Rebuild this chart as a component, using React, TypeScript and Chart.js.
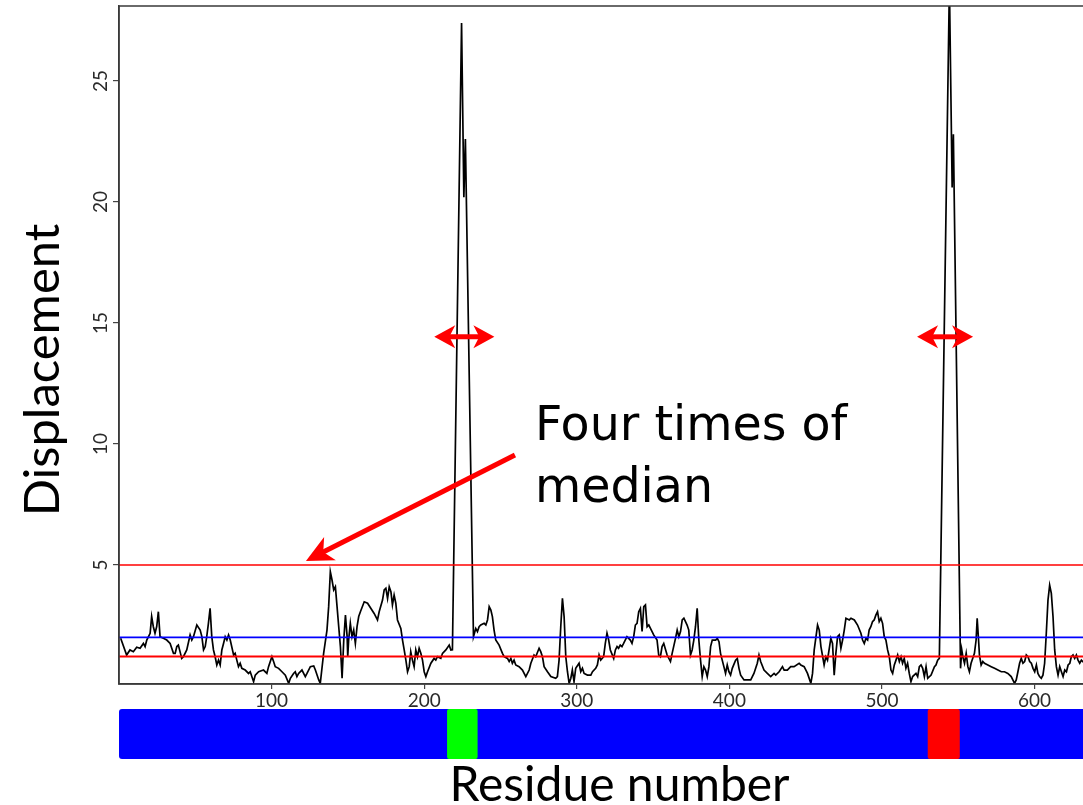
import React, { useEffect, useRef } from "react";
import { Chart, registerables } from "chart.js";

Chart.register(...registerables);

// ---------- data ----------
const residues = [
  1.1, 5.0, 7.2, 9.4, 11.6, 13.8, 16.0, 17.1, 18.2, 20.4, 21.4, 22.5, 23.6, 24.7, 25.8, 26.9, 29.1, 31.3, 33.5, 35.7,
  36.8, 37.9, 38.9, 40.0, 41.1, 42.2, 44.4, 46.6, 47.7, 48.8, 51.0, 53.2, 54.3, 55.4, 56.5, 57.5, 58.6, 59.7, 60.8, 61.9,
  63.0, 64.1, 65.2, 66.3, 67.4, 68.5, 69.6, 70.7, 71.8, 72.9, 75.1, 76.1, 77.2, 78.3, 79.4, 80.5, 82.7, 84.9, 86.0, 88.2,
  89.3, 91.5, 94.7, 96.9, 98.0, 100.2, 101.3, 102.4, 104.6, 106.8, 109.0, 111.2, 112.3, 114.4, 115.5, 116.6, 117.7, 119.9, 122.1, 123.2,
  125.4, 127.6, 128.7, 130.9, 131.9, 134.1, 136.3, 137.4, 138.5, 139.6, 140.7, 141.8, 142.9, 144.0, 145.1, 146.2, 147.3, 148.4, 149.5, 149.9,
  150.5, 151.6, 152.7, 153.8, 154.9, 156.0, 157.1, 158.2, 160.7, 162.9, 165.0, 167.2, 169.4, 170.5, 172.7, 173.8, 174.9, 176.0, 177.1, 178.2,
  179.2, 180.3, 181.4, 182.5, 184.7, 185.8, 186.9, 188.0, 189.1, 190.2, 191.2, 192.3, 193.4, 194.5, 195.6, 196.7, 197.8, 198.9, 200.0, 201.1,
  202.2, 204.4, 206.5, 207.6, 208.7, 210.9, 212.0, 214.2, 216.4, 217.5, 218.5, 224.5, 226.0, 227.0, 232.3, 233.8, 234.9, 236.0, 237.1, 239.3,
  240.4, 241.5, 242.6, 243.7, 244.7, 245.8, 246.9, 249.1, 251.3, 252.4, 254.6, 255.7, 256.8, 257.8, 258.9, 260.0, 262.2, 264.4, 266.6, 268.8,
  269.9, 272.0, 273.1, 275.3, 276.4, 277.5, 278.6, 280.8, 283.0, 286.2, 287.3, 288.4, 289.5, 290.6, 291.7, 292.8, 293.9, 295.0, 296.1, 297.1,
  298.2, 299.3, 301.5, 302.6, 303.7, 304.8, 307.0, 309.2, 310.3, 312.4, 313.5, 314.6, 315.7, 317.6, 318.7, 319.8, 320.9, 322.0, 324.2, 325.3,
  326.4, 327.4, 328.5, 329.6, 330.7, 332.9, 335.1, 336.2, 337.3, 338.4, 339.5, 340.6, 341.7, 342.8, 343.9, 345.0, 346.1, 347.2, 348.3, 350.4,
  352.6, 353.7, 354.8, 355.9, 357.0, 359.2, 361.4, 362.5, 364.7, 365.8, 366.9, 368.0, 369.1, 370.2, 372.3, 373.4, 374.5, 375.6, 376.7, 377.8,
  378.9, 380.0, 381.1, 382.2, 383.3, 384.4, 385.5, 386.6, 387.7, 388.8, 391.0, 392.1, 393.2, 394.2, 396.4, 397.5, 398.6, 399.7, 400.8, 401.9,
  404.1, 405.2, 406.3, 407.4, 409.6, 411.8, 414.0, 416.1, 418.3, 419.4, 420.5, 422.7, 424.9, 427.1, 429.3, 430.4, 432.6, 434.8, 435.9, 438.0,
  440.2, 442.4, 445.7, 446.8, 449.0, 451.2, 453.4, 454.5, 455.6, 457.8, 458.9, 460.0, 462.1, 463.2, 464.3, 466.5, 467.6, 468.7, 469.8, 470.9,
  472.0, 473.1, 474.2, 475.3, 476.4, 478.6, 479.7, 481.9, 484.0, 486.2, 487.3, 488.4, 489.5, 490.6, 491.6, 492.7, 493.8, 494.9, 496.0, 497.1,
  498.2, 499.3, 500.4, 501.5, 502.6, 503.7, 504.8, 505.9, 507.0, 508.1, 509.2, 510.3, 511.4, 512.5, 513.5, 514.6, 515.7, 516.8, 517.9, 519.0,
  520.1, 522.3, 523.4, 524.5, 525.6, 526.7, 527.8, 528.9, 530.0, 532.2, 534.4, 535.4, 536.5, 537.6, 544.2, 546.0, 546.8, 551.5, 552.3, 553.0,
  554.1, 555.2, 556.3, 557.3, 558.4, 560.6, 561.7, 562.4, 563.3, 563.9, 565.0, 566.1, 567.2, 569.4, 571.6, 573.8, 576.0, 578.2, 580.3, 582.5,
  584.7, 586.9, 588.0, 589.1, 590.2, 591.3, 592.4, 593.5, 594.6, 595.7, 596.8, 597.9, 599.0, 600.1, 601.2, 602.2, 603.3, 604.4, 605.5, 606.6,
  607.7, 608.8, 609.9, 611.0, 612.1, 613.2, 614.3, 615.4, 616.5, 617.6, 618.7, 619.8, 620.9, 622.0, 623.1, 624.1, 625.2, 626.3, 627.4, 628.5,
  629.6, 630.7, 632.7, 636.0,
];

const displacement = [
  1.97, 1.28, 1.49, 1.42, 1.60, 1.56, 1.76, 1.63, 1.90, 2.18, 2.87, 2.45, 2.18, 2.45, 3.07, 2.04, 1.97, 1.90, 1.76, 1.35,
  1.35, 1.63, 1.69, 1.42, 1.14, 1.21, 1.49, 2.11, 1.90, 2.04, 2.52, 2.31, 2.04, 1.49, 1.63, 2.04, 2.59, 3.21, 2.04, 1.49,
  1.21, 0.87, 1.07, 0.87, 1.49, 1.76, 2.04, 1.90, 2.11, 1.90, 1.28, 1.35, 1.07, 0.80, 0.94, 0.73, 0.66, 0.52, 0.59, 0.18,
  0.45, 0.59, 0.66, 0.52, 0.80, 1.21, 1.01, 0.80, 0.73, 0.59, 0.45, 0.11, 0.32, 0.52, 0.59, 0.39, 0.52, 0.66, 0.39, 0.52,
  0.80, 0.83, 0.66, 0.25, 0.11, 1.35, 2.31, 3.28, 4.72, 4.38, 3.97, 4.10, 3.28, 2.45, 1.63, 0.32, 1.90, 2.93, 2.04, 1.21,
  1.90, 2.59, 2.04, 2.31, 1.76, 2.45, 2.87, 3.07, 3.48, 3.42, 3.21, 3.00, 2.73, 3.07, 3.55, 3.97, 4.04, 3.62, 4.10, 3.90,
  3.35, 3.76, 3.42, 2.73, 2.38, 1.90, 1.49, 1.07, 0.59, 0.80, 1.42, 1.07, 0.80, 1.49, 1.21, 1.56, 1.35, 1.07, 0.59, 0.39,
  0.59, 0.94, 1.14, 1.07, 1.21, 1.14, 1.35, 1.49, 1.69, 1.49, 1.50, 27.4, 20.2, 22.6, 2.04, 2.38, 2.25, 2.45, 2.52, 2.59,
  2.52, 2.73, 3.28, 3.14, 2.87, 2.31, 1.90, 1.69, 1.35, 1.21, 1.14, 1.01, 1.14, 0.94, 1.07, 0.87, 0.80, 0.66, 0.39, 0.66,
  0.94, 1.28, 1.21, 1.56, 1.42, 1.21, 0.80, 0.59, 0.39, 0.32, 0.39, 1.07, 2.45, 3.62, 2.87, 1.21, 0.59, 0.11, 0.32, 0.66,
  0.18, 0.73, 0.94, 0.59, 0.73, 0.52, 0.45, 0.45, 0.59, 0.73, 0.87, 1.28, 1.07, 1.21, 1.76, 2.18, 1.90, 1.49, 1.14, 1.49,
  1.63, 1.56, 1.69, 1.63, 1.76, 2.04, 1.90, 1.76, 2.04, 2.52, 2.59, 3.07, 3.21, 2.25, 3.28, 3.35, 2.45, 2.52, 2.38, 2.11,
  1.90, 1.28, 1.21, 1.63, 1.76, 1.28, 1.01, 1.35, 1.97, 2.31, 2.04, 2.25, 2.73, 2.80, 2.52, 2.31, 1.28, 1.49, 1.90, 2.45,
  3.21, 1.90, 1.07, 0.39, 0.80, 0.66, 0.39, 0.80, 1.63, 1.90, 1.90, 1.97, 1.83, 1.35, 0.80, 0.52, 0.87, 0.59, 0.45, 0.73,
  1.07, 1.14, 0.73, 0.45, 0.25, 0.25, 0.25, 0.52, 0.94, 1.28, 1.01, 0.66, 0.52, 0.39, 0.52, 0.45, 0.59, 0.80, 0.66, 0.66,
  0.80, 0.80, 0.94, 0.87, 0.80, 0.52, 0.11, 0.52, 1.49, 2.52, 2.31, 1.63, 0.87, 1.21, 1.07, 1.97, 1.76, 0.45, 1.35, 2.04,
  2.11, 1.56, 1.90, 2.31, 2.80, 2.73, 2.80, 2.73, 2.52, 2.18, 1.90, 1.76, 1.97, 1.90, 2.31, 2.45, 2.66, 2.73, 2.93, 3.07,
  2.66, 2.80, 2.59, 2.04, 1.90, 1.49, 1.21, 0.66, 0.52, 0.87, 1.07, 1.28, 1.01, 1.21, 0.94, 1.14, 0.73, 0.94, 0.52, 0.18,
  0.39, 0.52, 0.39, 0.80, 0.87, 0.73, 0.39, 0.80, 0.32, 0.45, 0.80, 0.87, 1.07, 1.14, 29.0, 20.6, 22.8, 0.73, 1.49, 1.21,
  0.94, 1.35, 0.80, 0.59, 0.94, 1.35, 1.90, 2.80, 1.90, 1.28, 0.87, 1.01, 0.94, 0.87, 0.80, 0.73, 0.66, 0.59, 0.59, 0.52,
  0.39, 0.11, 0.25, 0.59, 0.94, 1.14, 0.94, 1.01, 1.28, 1.21, 1.01, 0.94, 0.73, 0.59, 0.87, 0.52, 0.39, 0.32, 0.45, 0.94,
  2.18, 3.55, 4.17, 3.83, 2.87, 1.49, 0.80, 0.45, 0.80, 0.59, 0.39, 0.66, 0.59, 0.87, 0.94, 1.21, 1.28, 1.14, 1.28, 1.07,
  0.94, 1.07, 0.94, 1.05,
];

const xTicks = [100, 200, 300, 400, 500, 600];
const yTicks = [5, 10, 15, 20, 25];

// reference lines
const fourTimesMedian = 5.0;
const blueLevel = 2.01;
const medianLevel = 1.22;

// domain bar below the axis (first entry is the full background domain)
const domainStarts = [0, 215, 530];
const domainEnds = [656, 235, 551];
const domainColors = ["#0000ff", "#00ff00", "#ff0000"];

// red double arrows marking the peaks
const dblArrowFrom = [206.6, 523.0];
const dblArrowTo = [246.0, 559.7];
const dblArrowLevel = [14.43, 14.43];

// annotation
const annotationLines = ["Four times of", "median"];
const annotationX = 272.6;
const annotationY = [10.17, 7.6];
const pointerFrom = { x: 259.5, y: 9.55 };
const pointerTo = { x: 122.5, y: 5.17 };

const X_MIN = 0;
const X_MAX = 656;
const Y_MIN = 0.083;
const Y_MAX = 28.1;

function drawHead(ctx: CanvasRenderingContext2D, tx: number, ty: number, angle: number, L: number, W: number) {
  ctx.save();
  ctx.translate(tx, ty);
  ctx.rotate(angle);
  ctx.beginPath();
  ctx.moveTo(0, 0);
  ctx.lineTo(-L, -W);
  ctx.lineTo(-L * 0.72, 0);
  ctx.lineTo(-L, W);
  ctx.closePath();
  ctx.fill();
  ctx.restore();
}

const decorPlugin = {
  id: "decor",
  afterDraw(chart: any) {
    const { ctx, chartArea: ca, scales } = chart;
    const xs = scales.x;
    const ys = scales.y;
    ctx.save();

    // frame
    ctx.strokeStyle = "#3a3a3a";
    ctx.lineWidth = 1.5;
    ctx.strokeRect(ca.left, ca.top, ca.right - ca.left, ca.bottom - ca.top);

    // y tick labels (rotated, R style)
    ctx.fillStyle = "#2a2a2a";
    ctx.font = "19px Lato";
    ctx.textAlign = "center";
    ctx.textBaseline = "alphabetic";
    for (const v of yTicks) {
      const py = ys.getPixelForValue(v);
      ctx.save();
      ctx.translate(ca.left - 12, py);
      ctx.rotate(-Math.PI / 2);
      ctx.fillText(String(v), 0, 0);
      ctx.restore();
    }

    // y title
    ctx.fillStyle = "#000";
    ctx.font = "49px Lato";
    ctx.save();
    ctx.translate(59, (ca.top + ca.bottom) / 2 + 25);
    ctx.rotate(-Math.PI / 2);
    ctx.fillText("Displacement", 0, 0);
    ctx.restore();

    // domain bar
    const barTop = ca.bottom + 25;
    const barH = 50;
    for (let i = 0; i < domainStarts.length; i++) {
      const x0 = xs.getPixelForValue(domainStarts[i]);
      const x1 = xs.getPixelForValue(domainEnds[i]);
      ctx.fillStyle = domainColors[i];
      ctx.beginPath();
      (ctx as any).roundRect(x0, barTop, x1 - x0, barH, i === 0 ? 3 : 2);
      ctx.fill();
    }

    // x title
    ctx.fillStyle = "#000";
    ctx.font = "48px Lato";
    ctx.textAlign = "center";
    ctx.fillText("Residue number", (ca.left + ca.right) / 2, ca.bottom + 117);

    // double arrows
    ctx.fillStyle = "#ff0000";
    ctx.strokeStyle = "#ff0000";
    for (let i = 0; i < dblArrowFrom.length; i++) {
      const y = ys.getPixelForValue(dblArrowLevel[i]);
      const x1 = xs.getPixelForValue(dblArrowFrom[i]);
      const x2 = xs.getPixelForValue(dblArrowTo[i]);
      ctx.lineWidth = 5;
      ctx.beginPath();
      ctx.moveTo(x1 + 14, y);
      ctx.lineTo(x2 - 14, y);
      ctx.stroke();
      drawHead(ctx, x2, y, 0, 21, 11.5);
      drawHead(ctx, x1, y, Math.PI, 21, 11.5);
    }

    // pointer arrow
    const px0 = xs.getPixelForValue(pointerFrom.x);
    const py0 = ys.getPixelForValue(pointerFrom.y);
    const px1 = xs.getPixelForValue(pointerTo.x);
    const py1 = ys.getPixelForValue(pointerTo.y);
    const ang = Math.atan2(py1 - py0, px1 - px0);
    const L = 27;
    ctx.lineWidth = 5;
    ctx.beginPath();
    ctx.moveTo(px0, py0);
    ctx.lineTo(px1 - Math.cos(ang) * L * 0.7, py1 - Math.sin(ang) * L * 0.7);
    ctx.stroke();
    drawHead(ctx, px1, py1, ang, L, 13);

    // annotation text
    ctx.fillStyle = "#000";
    ctx.font = '47.5px "DejaVu Sans"';
    ctx.textAlign = "left";
    ctx.textBaseline = "alphabetic";
    const ax = xs.getPixelForValue(annotationX);
    for (let i = 0; i < annotationLines.length; i++) {
      ctx.fillText(annotationLines[i], ax, ys.getPixelForValue(annotationY[i]));
    }

    ctx.restore();
  },
};

export default function App() {
  const ref = useRef<HTMLCanvasElement | null>(null);

  useEffect(() => {
    if (!ref.current) return;
    const hline = (level: number, color: string, width: number) => ({
      data: [
        { x: X_MIN, y: level },
        { x: X_MAX, y: level },
      ],
      borderColor: color,
      borderWidth: width,
      pointRadius: 0,
      fill: false,
    });
    const chart = new Chart(ref.current, {
      type: "line",
      data: {
        datasets: [
          hline(fourTimesMedian, "#ff0000", 1.3),
          hline(blueLevel, "#0000ff", 1.6),
          hline(medianLevel, "#ff0000", 2),
          {
            data: residues.map((r, i) => ({ x: r, y: displacement[i] })),
            borderColor: "#000000",
            borderWidth: 1.7,
            pointRadius: 0,
            tension: 0,
            fill: false,
          },
        ] as any,
      },
      options: {
        animation: false,
        responsive: false,
        maintainAspectRatio: false,
        layout: { padding: { top: 6, right: 0, bottom: 0, left: 0 } },
        plugins: { legend: { display: false }, tooltip: { enabled: false } },
        scales: {
          x: {
            type: "linear",
            min: X_MIN,
            max: X_MAX,
            afterBuildTicks: (s: any) => {
              s.ticks = xTicks.map((v) => ({ value: v }));
            },
            afterFit: (s: any) => {
              s.height = 121;
            },
            grid: { display: true, drawOnChartArea: false, drawTicks: true, tickLength: 5, color: "#444", lineWidth: 1.2 },
            border: { display: true, color: "#3a3a3a", width: 1.5 },
            ticks: { color: "#2a2a2a", font: { family: "Lato", size: 19 }, padding: 0, maxRotation: 0, autoSkip: false },
          },
          y: {
            type: "linear",
            min: Y_MIN,
            max: Y_MAX,
            afterBuildTicks: (s: any) => {
              s.ticks = yTicks.map((v) => ({ value: v }));
            },
            afterFit: (s: any) => {
              s.width = 119;
            },
            grid: { display: true, drawOnChartArea: false, drawTicks: true, tickLength: 6, color: "#444", lineWidth: 1.2 },
            border: { display: true, color: "#3a3a3a", width: 1.5 },
            ticks: { display: false },
          },
        },
      } as any,
      plugins: [decorPlugin],
    });
    return () => chart.destroy();
  }, []);

  return (
    <div
      style={{
        position: "fixed",
        left: 0,
        top: 0,
        width: 1083,
        height: 805,
        overflow: "hidden",
        background: "#ffffff",
      }}
    >
      <canvas ref={ref} width={1120} height={805} style={{ display: "block" }} />
    </div>
  );
}
